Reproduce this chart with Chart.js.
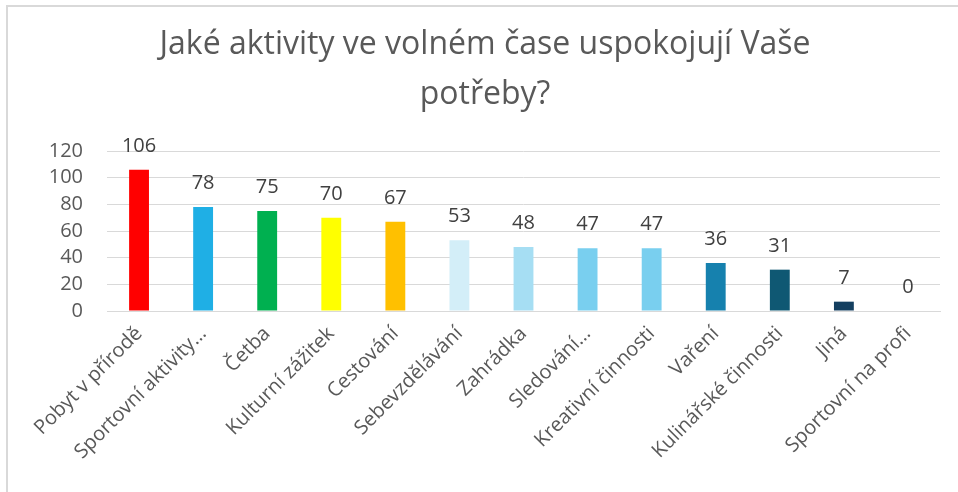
<!DOCTYPE html>
<html>
<head>
<meta charset="utf-8">
<script src="https://cdn.jsdelivr.net/npm/chart.js@4"></script>
<style>
    html, body { margin: 0; padding: 0; background: #fff; overflow: hidden; }
    #wrap { position: relative; width: 958px; height: 492px; overflow: hidden; }
    #frame { position: absolute; left: 6px; top: 5px; width: 1000px; height: 600px;
             border-left: 2px solid #d9d9d9; border-top: 2px solid #d9d9d9; }
    canvas { position: absolute; left: 0; top: 0; }
</style>
</head>
<body>
<div id="wrap">
    <div id="frame"></div>
    <canvas id="chart" width="958" height="492"></canvas>
</div>
<script>
// --- DATA ---
const categories = [
    'Pobyt v přírodě', 'Sportovní aktivity…', 'Četba', 'Kulturní zážitek', 'Cestování',
    'Sebevzdělávání', 'Zahrádka', 'Sledování…', 'Kreativní činnosti', 'Vaření',
    'Kulinářské činnosti', 'Jiná', 'Sportovní na profi'
];
const counts = [106, 78, 75, 70, 67, 53, 48, 47, 47, 36, 31, 7, 0];
const barColors = [
    '#FF0000', '#1FAFE5', '#00B050', '#FFFF00', '#FFC000',
    '#D3EEF8', '#A6DEF3', '#79CFEF', '#79CFEF', '#1681AE',
    '#0F5873', '#143F60', '#143F60'
];
const yTicks = [0, 20, 40, 60, 80, 100, 120];

const FONT = 'Open Sans, sans-serif';

// hodnoty nad sloupci
const valueLabels = {
    id: 'valueLabels',
    afterDatasetsDraw(chart) {
        const ctx = chart.ctx;
        const meta = chart.getDatasetMeta(0);
        ctx.save();
        ctx.font = '20px ' + FONT;
        ctx.fillStyle = '#404040';
        ctx.textAlign = 'center';
        ctx.textBaseline = 'alphabetic';
        meta.data.forEach((bar, i) => {
            ctx.fillText(String(counts[i]), bar.x, bar.y - 18);
        });
        ctx.restore();
    }
};

new Chart(document.getElementById('chart'), {
    type: 'bar',
    data: {
        labels: categories,
        datasets: [{
            data: counts,
            backgroundColor: barColors,
            borderWidth: 0,
            categoryPercentage: 1,
            barPercentage: 0.31
        }]
    },
    options: {
        responsive: false,
        animation: false,
        layout: { padding: { left: 12, right: 0, top: 0, bottom: 0 } },
        plugins: {
            legend: { display: false },
            tooltip: { enabled: false },
            title: {
                display: true,
                text: ['Jaké aktivity ve volném čase uspokojují Vaše', 'potřeby?'],
                color: '#595959',
                font: { family: FONT, size: 32, weight: 'normal', lineHeight: 1.5625 },
                padding: { top: 20, bottom: 31 }
            }
        },
        scales: {
            x: {
                grid: { display: false },
                border: { color: '#d9d9d9' },
                ticks: {
                    color: '#595959',
                    font: { family: FONT, size: 20 },
                    minRotation: 45,
                    maxRotation: 45,
                    autoSkip: false
                },
                afterFit(scale) { scale.height = 181; }
            },
            y: {
                min: 0,
                max: 120,
                grid: { color: '#d9d9d9', drawTicks: false },
                border: { display: false },
                afterBuildTicks(scale) { scale.ticks = yTicks.map(v => ({ value: v })); },
                ticks: {
                    color: '#595959',
                    font: { family: FONT, size: 20 },
                    padding: 24,
                    autoSkip: false
                },
                afterFit(scale) { scale.width = 95; }
            },
            // prázdné místo vpravo od grafu
            yRight: {
                position: 'right',
                grid: { display: false },
                border: { display: false },
                ticks: { display: false },
                afterFit(scale) { scale.width = 18; }
            }
        }
    },
    plugins: [valueLabels]
});
</script>
</body>
</html>
